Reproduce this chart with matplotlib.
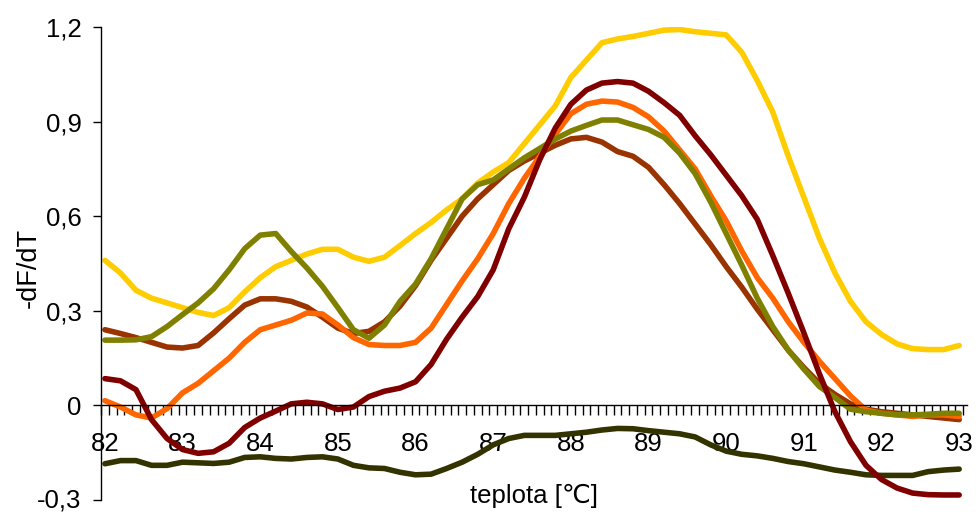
import matplotlib
matplotlib.use("Agg")
import matplotlib.pyplot as plt
from matplotlib.ticker import FixedLocator, FuncFormatter

plt.rcParams["font.family"] = ["Liberation Sans", "DejaVu Sans"]

# teplota (°C), krok 0.2
teplota = [82.0, 82.2, 82.4, 82.6, 82.8, 83.0, 83.2, 83.4, 83.6, 83.8,
           84.0, 84.2, 84.4, 84.6, 84.8, 85.0, 85.2, 85.4, 85.6, 85.8,
           86.0, 86.2, 86.4, 86.6, 86.8, 87.0, 87.2, 87.4, 87.6, 87.8,
           88.0, 88.2, 88.4, 88.6, 88.8, 89.0, 89.2, 89.4, 89.6, 89.8,
           90.0, 90.2, 90.4, 90.6, 90.8, 91.0, 91.2, 91.4, 91.6, 91.8,
           92.0, 92.2, 92.4, 92.6, 92.8, 93.0]

# -dF/dT jednotlivych vzorku
zluta = [0.46, 0.42, 0.365, 0.34, 0.325, 0.31, 0.295, 0.285, 0.31, 0.36,
         0.405, 0.44, 0.46, 0.48, 0.495, 0.495, 0.47, 0.457, 0.47, 0.507,
         0.545, 0.58, 0.62, 0.655, 0.705, 0.74, 0.77, 0.83, 0.89, 0.95,
         1.04, 1.095, 1.15, 1.162, 1.17, 1.18, 1.19, 1.192, 1.185, 1.18,
         1.175, 1.12, 1.03, 0.93, 0.79, 0.66, 0.53, 0.42, 0.33, 0.265,
         0.225, 0.195, 0.18, 0.177, 0.177, 0.19]

tmave_cervena = [0.085, 0.078, 0.05, -0.045, -0.105, -0.14, -0.152, -0.147, -0.12, -0.07,
                 -0.04, -0.018, 0.005, 0.01, 0.005, -0.013, -0.005, 0.028, 0.045, 0.055,
                 0.075, 0.13, 0.21, 0.28, 0.345, 0.43, 0.56, 0.66, 0.78, 0.88,
                 0.955, 1.0, 1.022, 1.027, 1.022, 0.996, 0.96, 0.92, 0.855, 0.795,
                 0.73, 0.665, 0.59, 0.475, 0.355, 0.23, 0.1, -0.02, -0.115, -0.19,
                 -0.235, -0.262, -0.278, -0.283, -0.284, -0.284]

oranzova = [0.015, -0.005, -0.03, -0.04, -0.01, 0.04, 0.07, 0.11, 0.15, 0.2,
            0.24, 0.255, 0.27, 0.293, 0.29, 0.255, 0.215, 0.193, 0.19, 0.19,
            0.2, 0.245, 0.32, 0.395, 0.465, 0.545, 0.64, 0.72, 0.79, 0.86,
            0.925, 0.955, 0.965, 0.962, 0.945, 0.915, 0.87, 0.81, 0.75, 0.665,
            0.585, 0.49, 0.405, 0.34, 0.265, 0.2, 0.14, 0.085, 0.03, -0.015,
            -0.025, -0.03, -0.035, -0.03, -0.03, -0.035]

hneda = [0.24, 0.228, 0.215, 0.2, 0.185, 0.182, 0.19, 0.23, 0.275, 0.318,
         0.338, 0.338, 0.33, 0.312, 0.28, 0.245, 0.228, 0.235, 0.265, 0.315,
         0.38, 0.46, 0.53, 0.6, 0.655, 0.7, 0.745, 0.775, 0.8, 0.825,
         0.845, 0.85, 0.835, 0.805, 0.79, 0.755, 0.7, 0.64, 0.575, 0.51,
         0.44, 0.375, 0.305, 0.24, 0.175, 0.12, 0.07, 0.035, 0.005, -0.012,
         -0.02, -0.025, -0.03, -0.035, -0.04, -0.045]

olivova = [0.207, 0.207, 0.208, 0.218, 0.25, 0.288, 0.325, 0.37, 0.43, 0.497,
           0.54, 0.545, 0.488, 0.436, 0.378, 0.31, 0.24, 0.213, 0.255, 0.33,
           0.385, 0.465, 0.56, 0.655, 0.7, 0.715, 0.75, 0.785, 0.815, 0.845,
           0.87, 0.888, 0.905, 0.905, 0.89, 0.875, 0.85, 0.8, 0.735, 0.645,
           0.545, 0.445, 0.34, 0.25, 0.175, 0.115, 0.06, 0.025, -0.012, -0.02,
           -0.025, -0.03, -0.03, -0.028, -0.025, -0.025]

tmave_olivova = [-0.185, -0.175, -0.175, -0.19, -0.19, -0.18, -0.182, -0.184, -0.18, -0.165,
                 -0.163, -0.168, -0.17, -0.165, -0.163, -0.17, -0.19, -0.198, -0.2, -0.212,
                 -0.22, -0.218, -0.2, -0.18, -0.155, -0.125, -0.105, -0.095, -0.095, -0.095,
                 -0.09, -0.085, -0.078, -0.073, -0.074, -0.08, -0.085, -0.09, -0.1, -0.125,
                 -0.145, -0.155, -0.16, -0.168, -0.178, -0.185, -0.195, -0.205, -0.212, -0.22,
                 -0.222, -0.222, -0.222, -0.21, -0.205, -0.202]

krivky = [
    (tmave_olivova, "#333300"),
    (zluta, "#FFCC00"),
    (hneda, "#993300"),
    (oranzova, "#FF6600"),
    (olivova, "#808000"),
    (tmave_cervena, "#800000"),
]

y_ticks = [-0.3, 0, 0.3, 0.6, 0.9, 1.2]
x_ticks = list(range(82, 94))


def carka(v, pos):
    # desetinna carka misto tecky
    if abs(v) < 1e-9:
        return "0"
    return f"{v:.1f}".replace(".", ",")


fig = plt.figure(figsize=(9.79, 5.12), dpi=100)
ax = fig.add_axes([0.1032, 0.0234, 0.8845, 0.9239])

for hodnoty, barva in krivky:
    ax.plot(teplota, hodnoty, color=barva, linewidth=4.0,
            solid_capstyle="round", solid_joinstyle="round")

ax.set_xlim(81.95, 93.1)
ax.set_ylim(-0.3, 1.2)

# osa x prochazi nulou
ax.spines["top"].set_visible(False)
ax.spines["right"].set_visible(False)
ax.spines["bottom"].set_position(("data", 0))
ax.spines["bottom"].set_linewidth(1.0)
ax.spines["left"].set_linewidth(1.0)

ax.xaxis.set_major_locator(FixedLocator(x_ticks))
ax.xaxis.set_minor_locator(FixedLocator([81.95 + 0.1 * i for i in range(112)]))
ax.tick_params(axis="x", which="major", length=0, pad=19, labelsize=18.5)
ax.tick_params(axis="x", which="minor", direction="out", length=7, width=1.0)

ax.yaxis.set_major_locator(FixedLocator(y_ticks))
ax.yaxis.set_major_formatter(FuncFormatter(carka))
ax.tick_params(axis="y", which="major", direction="out", length=6, width=1.0, pad=8, labelsize=18.5)

# spodni popisek by u okraje presahoval, zarovnat na stred
fig.canvas.draw()
ax.get_yticklabels()[0].set_verticalalignment("center")

fig.text(0.029, 0.476, "-dF/dT", rotation=90,
         ha="center", va="center", fontsize=19.5)
fig.text(0.545, 0.031, "teplota [\u2103]",
         ha="center", va="center", fontsize=18.5)

fig.savefig("out.png", dpi=100)
